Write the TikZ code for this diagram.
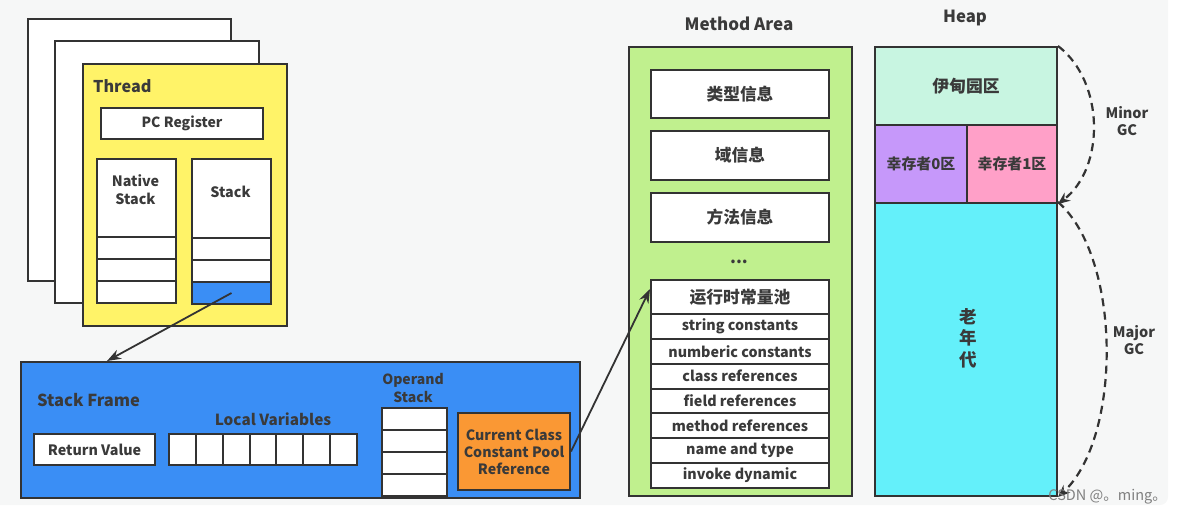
\documentclass[tikz,border=0pt]{standalone}
\usepackage{fontspec}
\setmainfont{Noto Sans CJK SC}
\usetikzlibrary{arrows.meta,calc}
\definecolor{bgc}{RGB}{246,247,247}
\definecolor{linec}{RGB}{51,51,51}
\definecolor{textc}{RGB}{58,58,58}
\definecolor{yellowc}{RGB}{255,243,104}
\definecolor{bluec}{RGB}{58,142,245}
\definecolor{orangec}{RGB}{250,152,52}
\definecolor{greenc}{RGB}{192,240,142}
\definecolor{edenc}{RGB}{200,245,225}
\definecolor{szeroc}{RGB}{198,152,250}
\definecolor{sonec}{RGB}{255,160,200}
\definecolor{oldc}{RGB}{100,240,250}
\tikzset{
  box/.style={draw=linec, line width=2pt, fill=white, inner sep=0pt, anchor=north west,
    text=textc, align=center, font=\bfseries\fontsize{14.3}{17}\selectfont},
  lbl/.style={inner sep=0pt, text=textc, align=center, font=\bfseries\fontsize{14.3}{17}\selectfont},
  big/.style={font=\bfseries\fontsize{16.7}{19}\selectfont},
  conn/.style={draw=linec, line width=1.8pt, -{Stealth[length=14pt,width=10pt]}},
  gc/.style={draw=linec, line width=2.2pt, dash pattern=on 8pt off 5.5pt, -{Stealth[length=12pt,width=10pt]}}
}
\begin{document}
\begin{tikzpicture}[x=1pt,y=-1pt]
\useasboundingbox (0,0) rectangle (1181,515);
\fill[bgc, rounded corners=8pt] (-10,-10) rectangle (1168,505);

% Thread
\node[box, minimum width=203, minimum height=262] (paperA) at (27,18) {};
\node[box, minimum width=204, minimum height=262] (paperB) at (54,40) {};
\node[box, fill=yellowc, minimum width=204, minimum height=262] (thread) at (82,63) {};
\node[lbl, font=\bfseries\fontsize{16.2}{19}\selectfont, anchor=west] (threadlbl) at (93,86) {Thread};
\node[box, minimum width=162, minimum height=31, font=\bfseries\fontsize{14}{16}\selectfont] (pc) at (100,107) {PC Register};
\node[box, minimum width=79, minimum height=78] (nhead) at (96,158) {};
\node[lbl, font=\bfseries\fontsize{14.3}{18}\selectfont] (ntext) at (135.5,190) {Native\\Stack};
\node[box, minimum width=79, minimum height=22] (nrowa) at (96,236) {};
\node[box, minimum width=79, minimum height=22] (nrowb) at (96,258) {};
\node[box, minimum width=79, minimum height=22] (nrowc) at (96,280) {};
\node[box, minimum width=79, minimum height=79] (shead) at (191,158) {};
\node[lbl, font=\bfseries\fontsize{14.3}{18}\selectfont] (stext) at (230.5,192) {Stack};
\node[box, minimum width=79, minimum height=22] (srowa) at (191,237) {};
\node[box, minimum width=79, minimum height=22] (srowb) at (191,259) {};
\node[box, fill=bluec, minimum width=79, minimum height=22] (srowc) at (191,281) {};

% Stack frame
\node[box, fill=bluec, minimum width=559, minimum height=136] (frame) at (20,361) {};
\node[lbl, font=\bfseries\fontsize{16.5}{19}\selectfont, anchor=west] (framelbl) at (37,400) {Stack Frame};
\node[box, minimum width=121, minimum height=31, font=\bfseries\fontsize{14.3}{16}\selectfont] (retval) at (33,433) {Return Value};
\node[lbl, font=\bfseries\fontsize{15.3}{17}\selectfont] (lvlbl) at (273,419) {Local Variables};
\foreach \i in {0,...,6}
  \node[box, minimum width=26.86, minimum height=31] (lv\i) at ({168+26.86*\i},433) {};
\node[lbl, font=\bfseries\fontsize{14}{18}\selectfont] (oplbl) at (413,388) {Operand\\Stack};
\foreach \i in {0,...,3}
  \node[box, minimum width=65, minimum height=22] (op\i) at (381,{407+22*\i}) {};
\node[box, fill=orangec, minimum width=112, minimum height=77, font=\bfseries\fontsize{14.2}{17}\selectfont] (cpref) at (457,412) {Current Class\\Constant Pool\\Reference};

% Method area
\node[lbl, font=\bfseries\fontsize{17}{19}\selectfont] (malbl) at (739,24) {Method Area};
\node[box, fill=greenc, minimum width=223, minimum height=449] (ma) at (628,46) {};
\node[box, minimum width=178, minimum height=48, font=\bfseries\fontsize{16.7}{19}\selectfont] (typeinfo) at (650,69) {类型信息};
\node[box, minimum width=178, minimum height=49, font=\bfseries\fontsize{16.7}{19}\selectfont] (fieldinfo) at (650,130) {域信息};
\node[box, minimum width=178, minimum height=49, font=\bfseries\fontsize{16.7}{19}\selectfont] (methodinfo) at (650,192) {方法信息};
\node[lbl, big] (dots) at (739,262) {...};
\node[box, minimum width=178, minimum height=34, font=\bfseries\fontsize{16.8}{19}\selectfont] (pool) at (650,279) {运行时常量池};
\foreach \t [count=\i from 0] in {string constants,numberic constants,class references,field references,method references,name and type,invoke dynamic}
  \node[box, minimum width=178, minimum height=24.86] (row\i) at (650,{313+24.86*\i}) {\t};

% Heap
\node[lbl, big] (heaplbl) at (965,18) {Heap};
\node[box, fill=edenc, minimum width=182, minimum height=78, font=\bfseries\fontsize{16.8}{19}\selectfont] (eden) at (874,46) {伊甸园区};
\node[box, fill=szeroc, minimum width=92, minimum height=78, font=\bfseries\fontsize{14.9}{17}\selectfont] (szero) at (874,124) {幸存者0区};
\node[box, fill=sonec, minimum width=90, minimum height=78, font=\bfseries\fontsize{14.9}{17}\selectfont] (sone) at (966,124) {幸存者1区};
\node[box, fill=oldc, minimum width=182, minimum height=293] (old) at (874,202) {};
\node[lbl, font=\bfseries\fontsize{17.5}{21.5}\selectfont] (oldtext) at (968,338) {老\\年\\代};

% connectors
\draw[conn] (srowc.center) -- ($(frame.north west)+(87,0)$);
\draw[conn] (cpref.east) -- ($(pool.west)+(0,-8)$);
\draw[gc] (eden.north east) .. controls (1105,82) and (1105,168) .. (sone.south east);
\draw[gc] (old.north east) .. controls (1122,258) and (1122,438) .. (old.south east);
\node[lbl, font=\bfseries\fontsize{14.5}{17}\selectfont] (minor) at (1127,121) {Minor\\GC};
\node[lbl, font=\bfseries\fontsize{14.5}{17}\selectfont] (major) at (1134,340) {Major\\GC};

\node[anchor=east, inner sep=0pt, text=gray, font=\fontsize{14.5}{16}\selectfont] (wm) at (1167,497) {CSDN @。ming。};
\end{tikzpicture}
\end{document}
